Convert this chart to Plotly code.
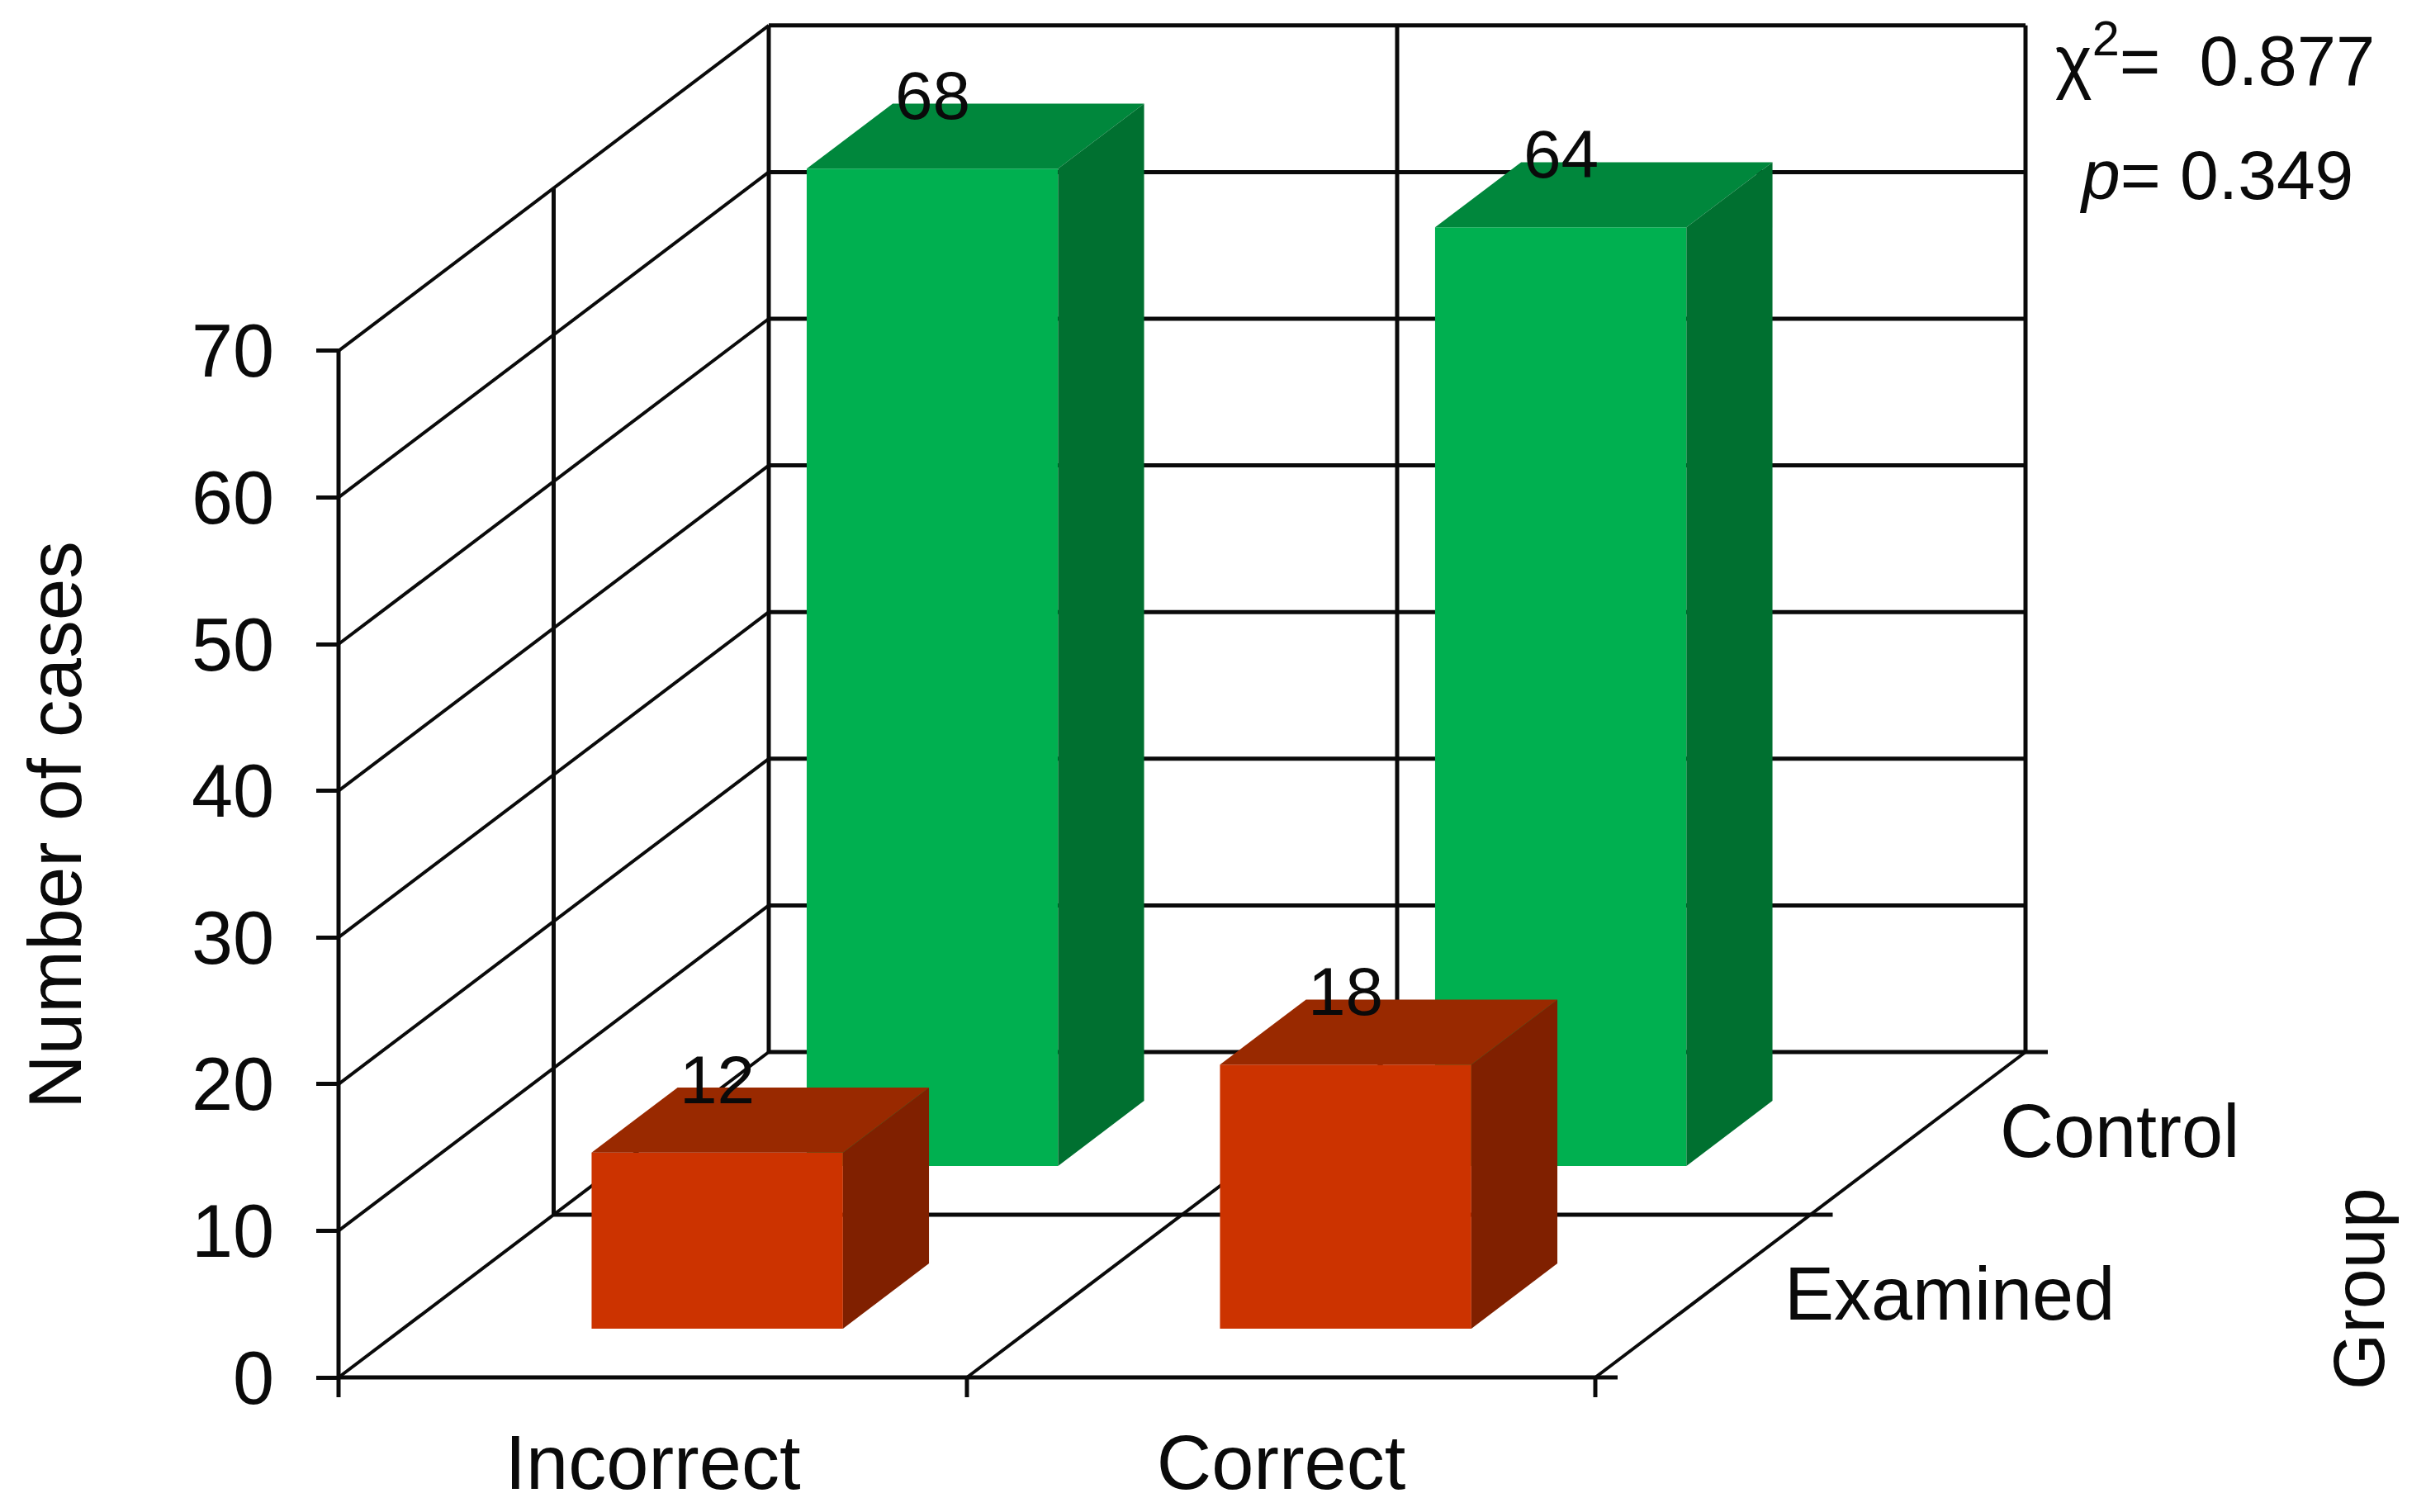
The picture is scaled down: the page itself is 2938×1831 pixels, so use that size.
import plotly.graph_objects as go

# chart values
categories = ["Incorrect", "Correct"]
groups = ["Examined", "Control"]
examined_values = [12, 18]
control_values = [68, 64]
y_ticks = [0, 10, 20, 30, 40, 50, 60, 70]
chi_text = "χ<sup>2</sup>=&nbsp;&nbsp;0.877"
p_text = "<i>p</i>= 0.349"

WIDTH, HEIGHT = 2938, 1831
FONT = "Liberation Sans"

# pixels per unit of the oblique chart box
X0, Y0 = 410, 1668
PX_CAT = 761
PX_VAL = 17.76
DEPTH_DX = 260.5
DEPTH_DY = 197
Y_TOP = 70
BAR_LO, BAR_HI = 0.3, 0.7


def proj(x, v, z):
    # oblique projection: depth z moves a point up and to the right
    return x + z * DEPTH_DX / PX_CAT, v + z * DEPTH_DY / PX_VAL


def segments(pairs):
    xs, ys = [], []
    for a, b in pairs:
        ax, ay = proj(*a)
        bx, by = proj(*b)
        xs += [ax, bx, None]
        ys += [ay, by, None]
    return xs, ys


def add_lines(fig, pairs, width):
    xs, ys = segments(pairs)
    fig.add_trace(go.Scatter(x=xs, y=ys, mode="lines", line=dict(color="#0a0a0a", width=width),
                             hoverinfo="skip", showlegend=False))


def add_face(fig, pts, color):
    xy = [proj(*p) for p in pts + pts[:1]]
    fig.add_trace(go.Scatter(x=[p[0] for p in xy], y=[p[1] for p in xy], mode="lines", fill="toself",
                             fillcolor=color, line=dict(width=0), hoverinfo="skip", showlegend=False))


def add_bar(fig, cat, row, value, front, top, side):
    x1, x2 = cat + BAR_LO, cat + BAR_HI
    z1, z2 = row + BAR_LO, row + BAR_HI
    add_face(fig, [(x1, 0, z1), (x2, 0, z1), (x2, value, z1), (x1, value, z1)], front)
    add_face(fig, [(x1, value, z1), (x2, value, z1), (x2, value, z2), (x1, value, z2)], top)
    add_face(fig, [(x2, 0, z1), (x2, 0, z2), (x2, value, z2), (x2, value, z1)], side)


fig = go.Figure()
n_cat, n_row = len(categories), len(groups)

# back wall and floor rows, drawn as long horizontals
add_lines(fig, [((0, v, n_row), (n_cat, v, n_row)) for v in y_ticks]
          + [((0, 0, r), (n_cat, 0, r)) for r in range(n_row)], 5)
# left wall and floor depth lines
add_lines(fig, [((0, v, 0), (0, v, n_row)) for v in y_ticks]
          + [((c, 0, 0), (c, 0, n_row)) for c in range(1, n_cat + 1)], 4)
# verticals
add_lines(fig, [((0, 0, r), (0, Y_TOP, r)) for r in range(n_row + 1)]
          + [((c, 0, n_row), (c, Y_TOP, n_row)) for c in range(1, n_cat + 1)], 5)
# short tick marks on category and depth edges
add_lines(fig, [((c, 0, 0), (c, -24 / PX_VAL, 0)) for c in range(n_cat + 1)], 5)
add_lines(fig, [((n_cat, 0, r), (n_cat + 27 / PX_CAT, 0, r)) for r in range(n_row + 1)], 5)

for i, v in enumerate(control_values):
    add_bar(fig, i, 1, v, "#00B050", "#00873C", "#007030")
for i, v in enumerate(examined_values):
    add_bar(fig, i, 0, v, "#CC3300", "#992900", "#802000")

annotations = []
for row, values in enumerate([examined_values, control_values]):
    for i, v in enumerate(values):
        x, y = proj(i + 0.5, v, row + 0.5)
        annotations.append(dict(x=x, y=y, text=str(v), xshift=-52, yshift=49, showarrow=False,
                                font=dict(size=82), xanchor="center", yanchor="middle"))
for row, name in enumerate(groups):
    x, y = proj(n_cat, 0, row + 0.5)
    annotations.append(dict(x=x, y=y, text=name, xshift=97, yshift=3, showarrow=False,
                            font=dict(size=90), xanchor="left", yanchor="middle"))

for text, px, py, rot, size, anchor in [
    ("Number of cases", 66, 999, -90, 91, "center"),
    ("Group", 2856, 1561, -90, 88, "center"),
    (chi_text, 2487, 67, 0, 85, "left"),
    (p_text, 2516, 212, 0, 84, "left"),
]:
    annotations.append(dict(x=px / WIDTH, y=1 - py / HEIGHT, xref="paper", yref="paper", text=text,
                            textangle=rot, showarrow=False, font=dict(size=size),
                            xanchor=anchor, yanchor="middle"))

fig.update_layout(
    width=WIDTH,
    height=HEIGHT,
    margin=dict(l=0, r=0, t=0, b=0),
    paper_bgcolor="white",
    plot_bgcolor="white",
    showlegend=False,
    font=dict(family=FONT, color="#0a0a0a"),
    annotations=annotations,
    xaxis=dict(
        range=[-X0 / PX_CAT, (WIDTH - X0) / PX_CAT],
        tickvals=[i + 0.5 for i in range(n_cat)],
        ticktext=categories,
        ticks="",
        showgrid=False,
        zeroline=False,
        anchor="free",
        position=(HEIGHT - Y0) / HEIGHT,
        tickfont=dict(size=92),
        ticklabelstandoff=42,
    ),
    yaxis=dict(
        range=[(Y0 - HEIGHT) / PX_VAL, Y0 / PX_VAL],
        tickvals=y_ticks,
        ticks="outside",
        ticklen=27,
        tickwidth=5,
        tickcolor="#0a0a0a",
        showgrid=False,
        zeroline=False,
        anchor="free",
        position=X0 / WIDTH,
        tickfont=dict(size=90),
        ticklabelstandoff=33,
    ),
)

fig.write_html("out.html", config={"displayModeBar": False},
               post_script="document.body.style.margin='0';document.body.style.overflow='hidden';")
